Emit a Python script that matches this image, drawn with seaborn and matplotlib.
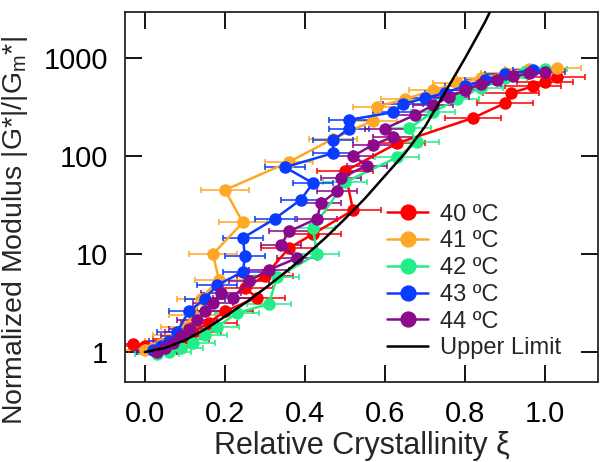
import numpy as np
import pandas as pd
import seaborn as sns
import matplotlib.pyplot as plt
from matplotlib.ticker import FixedLocator, NullLocator

# 40 C
xi_40 = [-0.03, 0.0, 0.03, 0.06, 0.09, 0.12, 0.16, 0.2, 0.28, 0.25, 0.3, 0.36, 0.42, 0.52,
         0.5, 0.63, 0.82, 0.9, 0.915, 0.97, 1.0, 1.03]
g_40 = [1.2, 1.15, 1.05, 1.15, 1.35, 1.6, 2.0, 2.6, 3.6, 4.5, 6.0, 11.5, 16, 28,
        70, 135, 245, 347, 440, 515, 575, 640]
# 41 C
xi_41 = [0.0, 0.02, 0.04, 0.06, 0.08, 0.1, 0.12, 0.14, 0.185, 0.17, 0.245, 0.2, 0.36, 0.47,
         0.57, 0.58, 0.65, 0.72, 0.78, 0.84, 0.9, 0.96, 1.03]
g_41 = [1.05, 1.1, 1.2, 1.3, 1.5, 1.8, 2.4, 3.5, 5.5, 10, 21, 45, 87, 150,
        230, 320, 380, 470, 550, 620, 700, 770, 800]
# 42 C
xi_42 = [0.03, 0.06, 0.09, 0.12, 0.15, 0.18, 0.23, 0.31, 0.33, 0.43, 0.42, 0.5, 0.63, 0.68,
         0.66, 0.72, 0.78, 0.84, 0.9, 0.95, 1.0]
g_42 = [0.95, 1.0, 1.1, 1.25, 1.5, 1.8, 2.5, 3.1, 5.8, 10, 18.5, 54, 97, 138,
        192, 280, 380, 500, 620, 720, 780]
# 43 C
xi_43 = [0.02, 0.04, 0.06, 0.08, 0.11, 0.15, 0.18, 0.245, 0.25, 0.245, 0.325, 0.39, 0.42, 0.35,
         0.47, 0.47, 0.51, 0.51, 0.62, 0.645, 0.7, 0.75, 0.8, 0.85, 0.9, 0.97]
g_43 = [1.05, 1.15, 1.3, 1.6, 2.6, 3.5, 4.8, 6.6, 9.5, 14.6, 23, 36, 53, 77,
        107, 145, 190, 234, 280, 340, 390, 440, 520, 600, 680, 760]
# 44 C
xi_44 = [0.03, 0.05, 0.07, 0.09, 0.11, 0.13, 0.15, 0.17, 0.19, 0.22, 0.26, 0.31, 0.38, 0.34,
         0.36, 0.43, 0.44, 0.48, 0.49, 0.555, 0.52, 0.57, 0.62, 0.6, 0.675, 0.72, 0.76, 0.8,
         0.84, 0.88, 0.92, 0.96, 1.0]
g_44 = [1.0, 1.1, 1.25, 1.45, 1.7, 2.1, 2.6, 3.2, 4.0, 3.6, 5.3, 6.9, 9.1, 12.3,
        17, 23, 33, 44, 60, 80, 100, 130, 157, 191, 263, 330, 400, 470,
        540, 600, 650, 700, 720]

# horizontal error bar half widths per temperature
xerr = {"40 ºC": 0.07, "41 ºC": 0.06, "42 ºC": 0.055, "43 ºC": 0.05, "44 ºC": 0.05}

# upper limit curve
xi_lim = [0.0, 0.05, 0.1, 0.15, 0.2, 0.25, 0.3, 0.35, 0.4, 0.45, 0.5, 0.55, 0.6, 0.65,
          0.7, 0.75, 0.8, 0.85, 0.88]
g_lim = [1.0, 1.1, 1.32, 1.7, 2.3, 3.16, 4.47, 6.46, 9.55, 14.5, 22.9, 37, 63, 107,
         200, 447, 1000, 2340, 4200]

labels = ["40 ºC", "41 ºC", "42 ºC", "43 ºC", "44 ºC"]
colors = ["#ff0000", "#ffa726", "#22ee88", "#0a3cff", "#8b0a8b"]
series = [(xi_40, g_40), (xi_41, g_41), (xi_42, g_42), (xi_43, g_43), (xi_44, g_44)]

sns.set_style("ticks")
plt.rcParams['font.family'] = ['Liberation Sans', 'DejaVu Sans']

fig, ax = plt.subplots(figsize=(6, 4.62), dpi=100)
fig.subplots_adjust(left=0.208, right=0.997, top=0.974, bottom=0.173)

for lab, col, (xs, gs) in zip(labels, colors, series):
    df = pd.DataFrame({"xi": xs, "g": gs})
    ax.errorbar(df["xi"], df["g"], xerr=xerr[lab], fmt="none", ecolor=col,
                elinewidth=1.4, capsize=2.5, capthick=1.4, alpha=0.8, zorder=2)
    sns.lineplot(data=df, x="xi", y="g", sort=False, estimator=None, color=col,
                 marker="o", markersize=9, markeredgewidth=0, linewidth=1.8,
                 label=lab, ax=ax, zorder=3)

lim = pd.DataFrame({"xi": xi_lim, "g": g_lim})
sns.lineplot(data=lim, x="xi", y="g", sort=False, estimator=None, color="black",
             linewidth=1.8, label="Upper Limit", ax=ax, zorder=5)

ax.set_yscale("log")
ax.set_xlim(-0.05, 1.1325)
ax.set_ylim(0.494, 2950)
ax.yaxis.set_major_locator(FixedLocator([1, 10, 100, 1000]))
ax.set_yticklabels(["1", "10", "100", "1000"])
ax.yaxis.set_minor_locator(NullLocator())
ax.set_xticks([0.0, 0.2, 0.4, 0.6, 0.8, 1.0])
ax.set_xticklabels(["0.0", "0.2", "0.4", "0.6", "0.8", "1.0"])

ax.tick_params(direction="in", length=12, width=1.3, top=True, right=True,
               labelsize=21, colors="black")
ax.tick_params(axis="y", pad=12)
ax.tick_params(axis="x", pad=13)
for s in ax.spines.values():
    s.set_linewidth(1.3)
    s.set_visible(True)

ax.set_xlabel("Relative Crystallinity ξ", fontsize=22, labelpad=2)
ax.set_ylabel("Normalized Modulus |G*|/|G$_\\mathregular{m}$*|", fontsize=20.5)
ax.yaxis.set_label_coords(-0.2, 0.41)

ax.legend(loc="upper left", bbox_to_anchor=(0.554, 0.482), frameon=False, fontsize=17,
          handlelength=1.75, labelspacing=0.2, handletextpad=0.5, borderaxespad=0,
          borderpad=0, markerscale=1.3)

fig.savefig("out.png", dpi=100)
